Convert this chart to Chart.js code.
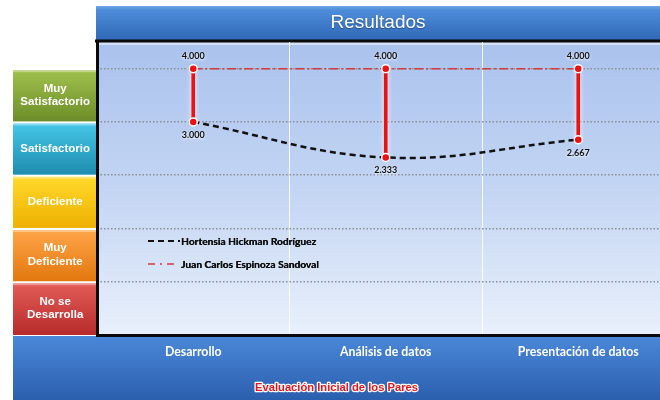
<!DOCTYPE html>
<html><head><meta charset="utf-8">
<script src="https://cdn.jsdelivr.net/npm/chart.js@4/dist/chart.umd.min.js"></script>
<style>
html,body{margin:0;padding:0;background:#fff;overflow:hidden;width:660px;height:400px;}
#wrap{position:absolute;left:0;top:0;width:680px;height:400px;}
</style></head><body>
<div id="wrap"><canvas id="c" width="680" height="400"></canvas></div>
<script>
// ---- data ----
const categories = ['Desarrollo', 'Análisis de datos', 'Presentación de datos'];
const seriesNames = ['Hortensia Hickman Rodríguez', 'Juan Carlos Espinoza Sandoval'];
const hortensia = [3.000, 2.333, 2.667];
const juanCarlos = [4.000, 4.000, 4.000];
const levelLabels = [['No se', 'Desarrolla'], ['Muy', 'Deficiente'], 'Deficiente', 'Satisfactorio', ['Muy', 'Satisfactorio']];
const levelValues = [-0.5, 0.5, 1.5, 2.5, 3.5];
const gridValues = [0, 1, 2, 3, 4];
const chartTitle = 'Resultados';
const bottomTitle = 'Evaluación Inicial de los Pares';

// high-low connector built from the two series
const highLow = categories.map((c, i) => [Math.min(hortensia[i], juanCarlos[i]), Math.max(hortensia[i], juanCarlos[i])]);

const levelGradients = [['#e35c57', '#b62b2b'], ['#ffa64a', '#e2770e'], ['#ffd92c', '#efb000'], ['#46c7e7', '#1e8caf'], ['#a0c04d', '#6d8d29']];

const decor = {
  id: 'decor',
  beforeDraw(chart) {
    const ctx = chart.ctx, a = chart.chartArea, ys = chart.scales.y;
    ctx.save();
    ctx.fillStyle = '#fff';
    ctx.fillRect(0, 0, chart.width, chart.height);
    // header
    let g = ctx.createLinearGradient(0, 6, 0, 40);
    g.addColorStop(0, '#6fa6e6'); g.addColorStop(0.12, '#4e8cda'); g.addColorStop(1, '#2f68b6');
    ctx.fillStyle = g; ctx.fillRect(96, 6, chart.width - 96, 34);
    // plot background
    g = ctx.createLinearGradient(0, a.top, 0, a.bottom);
    g.addColorStop(0, '#aac2ed'); g.addColorStop(0.5, '#c3d5f3'); g.addColorStop(1, '#e9f0fb');
    ctx.fillStyle = g; ctx.fillRect(a.left, a.top, a.right - a.left, a.bottom - a.top);
    ctx.fillStyle = 'rgba(255,255,255,0.5)'; ctx.fillRect(a.left, a.top, a.right - a.left, 3);
    // level boxes
    levelValues.forEach((v, i) => {
      const top = ys.getPixelForValue(v + 0.5) + 1.5, bot = ys.getPixelForValue(v - 0.5) - (i === 0 ? 0 : 0.5);
      const gg = ctx.createLinearGradient(0, top, 0, bot);
      gg.addColorStop(0, levelGradients[i][0]); gg.addColorStop(1, levelGradients[i][1]);
      ctx.fillStyle = gg; ctx.fillRect(13, top, 83, bot - top);
      ctx.fillStyle = 'rgba(255,255,255,0.35)'; ctx.fillRect(13, top, 83, 2);
    });
    // bottom bar
    g = ctx.createLinearGradient(0, 337, 0, 400);
    g.addColorStop(0, '#4a87d8'); g.addColorStop(1, '#2b5fad');
    ctx.fillStyle = g; ctx.fillRect(13, 336, chart.width - 13, 64);
    // black frame line under header
    ctx.fillStyle = '#0a0a0a';
    ctx.fillRect(95, 39.5, chart.width - 95, 3);
    ctx.restore();
  },
  beforeDatasetDraw(chart, args) {
    if (args.meta.type === 'bar') {
      chart.ctx.save();
      chart.ctx.shadowColor = 'rgba(255,255,255,0.95)';
      chart.ctx.shadowBlur = 5;
    }
  },
  afterDatasetDraw(chart, args) {
    if (args.meta.type === 'bar') chart.ctx.restore();
  },
  afterDraw(chart) {
    const ctx = chart.ctx;
    ctx.save();
    // header title
    ctx.font = '19px "Liberation Sans", Arial, sans-serif';
    ctx.textAlign = 'center'; ctx.textBaseline = 'middle';
    ctx.shadowColor = 'rgba(0,0,0,0.35)'; ctx.shadowOffsetY = 1; ctx.shadowBlur = 1;
    ctx.fillStyle = '#fff';
    ctx.fillText(chartTitle, 378, 23);
    ctx.shadowColor = 'transparent';
    // bottom title
    ctx.font = 'bold 11.2px "Liberation Sans", Arial, sans-serif';
    ctx.lineWidth = 2.5; ctx.strokeStyle = '#fff'; ctx.lineJoin = 'round';
    ctx.strokeText(bottomTitle, 336.5, 388);
    ctx.fillStyle = '#e3161f';
    ctx.fillText(bottomTitle, 336.5, 388);
    // legend
    const ds = chart.data.datasets;
    const legendRows = [241, 264];
    [0, 1].forEach(k => {
      const y = legendRows[k];
      ctx.beginPath();
      ctx.setLineDash(k === 0 ? [6, 4] : [7, 5, 2, 5]);
      ctx.strokeStyle = ds[k].borderColor;
      ctx.lineWidth = k === 0 ? 2 : 1.5;
      ctx.moveTo(148, y); ctx.lineTo(k === 0 ? 180 : 174, y);
      ctx.stroke();
      ctx.setLineDash([]);
      ctx.font = 'bold 10.2px Lato, sans-serif';
      ctx.textAlign = 'left'; ctx.fillStyle = '#0d0d0d';
      ctx.fillText(ds[k].label, 181, y + 0.5);
      ctx.fillText(ds[k].label, 181.3, y + 0.5);
    });
    // data labels
    ctx.font = 'bold 9px Lato, sans-serif';
    ctx.textAlign = 'center';
    ctx.shadowColor = 'rgba(255,255,255,1)'; ctx.shadowBlur = 3;
    ctx.fillStyle = '#111';
    const m0 = chart.getDatasetMeta(0), m1 = chart.getDatasetMeta(1);
    categories.forEach((c, i) => {
      [[m0, ds[0].data[i], ds[1].data[i]], [m1, ds[1].data[i], ds[0].data[i]]].forEach(([m, v, other]) => {
        const p = m.data[i];
        const above = v >= other;
        ctx.fillText(v.toFixed(3), p.x, above ? p.y - 13 : p.y + 13);
      });
    });
    ctx.restore();
  }
};

const pointStyle = {
  pointRadius: 4, pointHoverRadius: 4,
  pointBackgroundColor: '#ee1111', pointBorderColor: '#ffffff', pointBorderWidth: 1.5
};

new Chart(document.getElementById('c'), {
  data: {
    labels: categories,
    datasets: [
      Object.assign({ type: 'line', label: seriesNames[0], data: hortensia, borderColor: '#111111', borderWidth: 2.5,
        borderDash: [6, 4], tension: 0.4, order: 1, yAxisID: 'y' }, pointStyle),
      Object.assign({ type: 'line', label: seriesNames[1], data: juanCarlos, borderColor: '#d33a3c', borderWidth: 1.5,
        borderDash: [9, 3, 2, 3], tension: 0, order: 1, yAxisID: 'y' }, pointStyle),
      { type: 'bar', label: 'Alto-Bajo', data: highLow, backgroundColor: '#ee1111', barThickness: 3, order: 2, yAxisID: 'y' }
    ]
  },
  options: {
    responsive: false, animation: false,
    layout: { padding: { top: 42, left: 0, right: 0, bottom: 0 } },
    plugins: { legend: { display: false }, tooltip: { enabled: false }, title: { display: false } },
    scales: {
      x: {
        type: 'category', offset: true,
        grid: { offset: true, color: 'rgba(255,255,255,0.85)', lineWidth: 1, drawTicks: false },
        border: { display: true, color: '#0a0a0a', width: 3 },
        ticks: { color: '#ffffff', font: { family: 'Lato', weight: 'bold', size: 12.3 }, padding: 10 },
        afterFit: s => { s.height = 65; }
      },
      y: {
        position: 'right', min: -1, max: 4.5,
        afterBuildTicks: s => { s.ticks = gridValues.map(v => ({ value: v })); },
        grid: { color: '#8a8e96', lineWidth: 1.5, drawTicks: false },
        border: { display: false, dash: [1.5, 2] },
        ticks: { display: false },
        afterFit: s => { s.width = 0; }
      },
      yl: {
        position: 'left', min: -1, max: 4.5,
        afterBuildTicks: s => { s.ticks = levelValues.map(v => ({ value: v })); },
        grid: { display: false, drawTicks: false },
        border: { display: true, color: '#0a0a0a', width: 3 },
        ticks: { color: '#ffffff', font: { family: 'Liberation Sans', weight: 'bold', size: 11.5, lineHeight: 1.2 },
          crossAlign: 'center', padding: 7, callback: (v, i) => levelLabels[i] },
        afterFit: s => { s.width = 97; }
      }
    }
  },
  plugins: [decor]
});
</script>
</body></html>
